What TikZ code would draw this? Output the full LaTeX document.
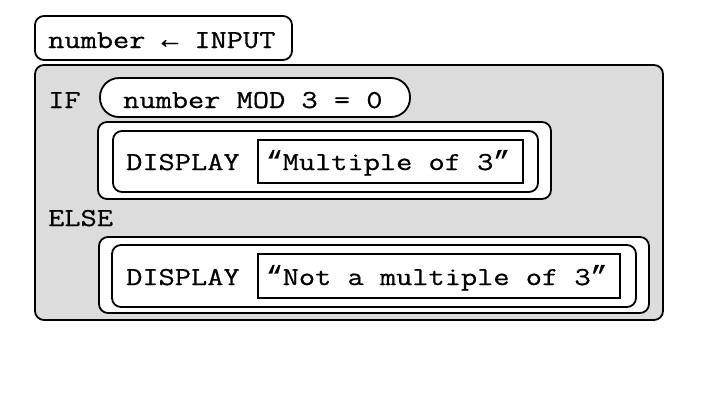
\documentclass[tikz,border=0pt]{standalone}
\usepackage{fontspec}
\setmonofont{Latin Modern Mono}[FakeStretch=1.22, FakeBold=0.7]
\newfontfamily\symfont{Liberation Mono}[FakeBold=0.6]
\newcommand{\openq}{{\symfont\fontsize{27.5}{30}\selectfont“}}
\newcommand{\closeq}{{\symfont\fontsize{27.5}{30}\selectfont”}}
\definecolor{blockgray}{HTML}{DCDCDC}
\begin{document}
\begin{tikzpicture}[x=1pt,y=-1pt,
  frame/.style={draw=black, line width=1.8pt, inner sep=0pt, rounded corners=9pt},
  whiteframe/.style={frame, fill=white},
  grayframe/.style={frame, fill=blockgray},
  pill/.style={frame, fill=white, rounded corners=19pt},
  strbox/.style={draw=black, line width=1.8pt, fill=white, inner sep=0pt},
  code/.style={anchor=base west, inner sep=0pt, font=\ttfamily\fontsize{25.8}{30}\selectfont}]
\useasboundingbox (0,0) rectangle (705,413);
% frames
\node[whiteframe, minimum width=257pt, minimum height=44pt] (inbox) at (163.5,38) {};
\node[grayframe, minimum width=628pt, minimum height=255pt] (ifblock) at (349,192.5) {};
\node[pill, minimum width=310pt, minimum height=39pt] (cond) at (255,97.5) {};
\node[whiteframe, minimum width=453pt, minimum height=77pt] (outerA) at (324.5,160.5) {};
\node[whiteframe, minimum width=425pt, minimum height=61pt] (innerA) at (325.5,161.5) {};
\node[strbox, minimum width=265pt, minimum height=43pt] (strA) at (390.5,161.5) {};
\node[whiteframe, minimum width=550pt, minimum height=76pt] (outerB) at (374,275) {};
\node[whiteframe, minimum width=524pt, minimum height=62pt] (innerB) at (374,276) {};
\node[strbox, minimum width=362pt, minimum height=44pt] (strB) at (439,276) {};
% texts
\node[code] (tin) at (48,48) {number {\symfont\fontsize{27.5}{30}\selectfont←} INPUT};
\node[code] (tif) at (48,108) {IF};
\node[code] (tcond) at (123,108) {number MOD 3 = 0};
\node[code] (tdispA) at (126,170) {DISPLAY};
\node[code] (tstrA) at (266,170) {\openq Multiple of 3\closeq};
\node[code] (telse) at (48,226) {ELSE};
\node[code] (tdispB) at (126,285) {DISPLAY};
\node[code] (tstrB) at (266,285) {\openq Not a multiple of 3\closeq};
\end{tikzpicture}
\end{document}
